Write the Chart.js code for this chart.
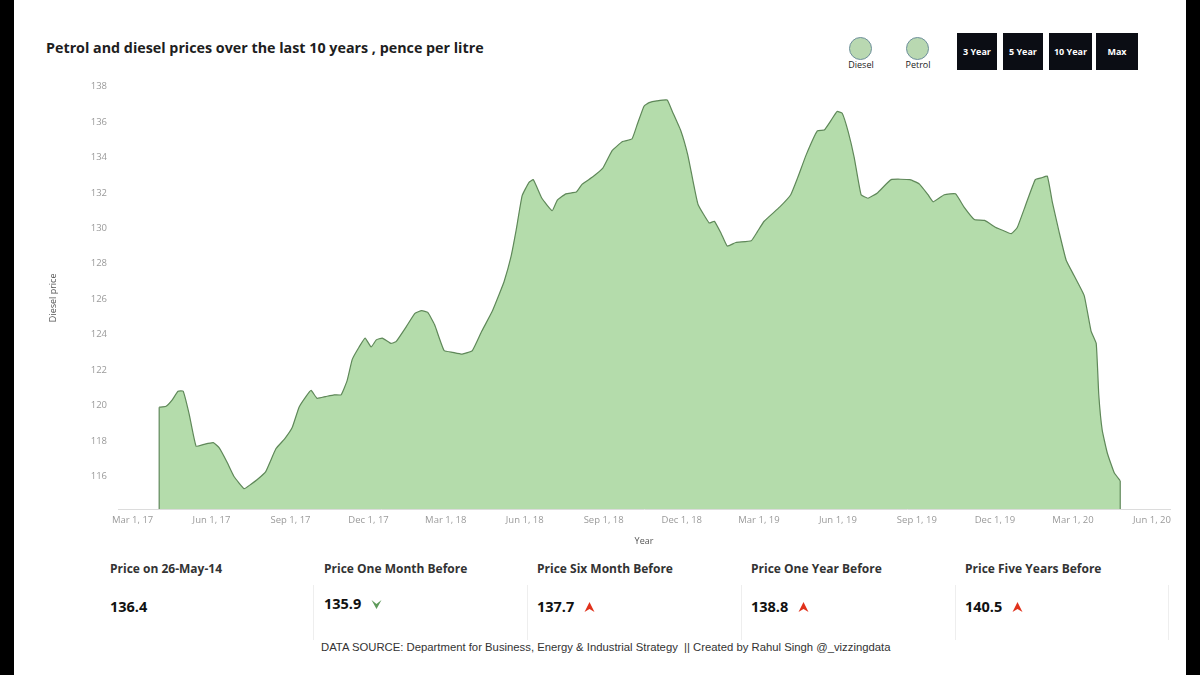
<!DOCTYPE html>
<html>
<head>
<meta charset="utf-8">
<script src="https://cdn.jsdelivr.net/npm/chart.js@4.4.1/dist/chart.umd.min.js"></script>
<style>
  html, body { margin:0; padding:0; width:1200px; height:675px; background:#000; overflow:hidden; }
  #page { position:absolute; left:14px; top:0; width:1172px; height:675px; background:#fff; }
  .abs { position:absolute; }
  #title { left:32px; top:38px; font-family:'Open Sans',sans-serif; font-weight:700; font-size:14.3px; color:#1e1e1e; white-space:nowrap; }
  .leg { width:23px; height:23px; border-radius:50%; background:#b9d8b1; border:1.6px solid #6e8f9c; box-sizing:border-box; }
  .legtxt { font-family:'Open Sans',sans-serif; font-size:9px; color:#222; width:40px; text-align:center; }
  .btn { background:#0b0d14; color:#fff; font-family:'Open Sans',sans-serif; font-weight:700; font-size:9px; display:flex; align-items:center; justify-content:center; height:37px; top:33px; }
  #chartBox { left:30px; top:70px; width:1136px; height:480px; }
  .hdr { font-family:'Open Sans',sans-serif; font-weight:700; font-size:12px; color:#333; top:560px; white-space:nowrap; }
  .val { font-family:'Open Sans',sans-serif; font-weight:700; font-size:14.5px; color:#111; top:597px; white-space:nowrap; display:flex; align-items:center; }
  .val svg { margin-left:10px; }
  .sep { width:1px; background:#eeeeee; top:585px; height:55px; }
  #foot { left:307px; top:641px; font-family:'Liberation Sans',Arial,sans-serif; font-size:11.3px; color:#333; white-space:nowrap; }
</style>
</head>
<body>
<div id="page">
  <div id="title" class="abs">Petrol and diesel prices over the last 10 years , pence per litre</div>

  <div class="abs leg" style="left:835px;top:37px;"></div>
  <div class="abs legtxt" style="left:827px;top:58px;">Diesel</div>
  <div class="abs leg" style="left:892px;top:37px;"></div>
  <div class="abs legtxt" style="left:884px;top:58px;">Petrol</div>

  <div class="abs btn" style="left:943px;width:40px;">3 Year</div>
  <div class="abs btn" style="left:989px;width:40px;">5 Year</div>
  <div class="abs btn" style="left:1035px;width:43px;">10 Year</div>
  <div class="abs btn" style="left:1082px;width:42px;">Max</div>

  <div id="chartBox" class="abs"><canvas id="c"></canvas></div>

  <div class="abs hdr" style="left:96px;">Price on 26-May-14</div>
  <div class="abs hdr" style="left:310px;">Price One Month Before</div>
  <div class="abs hdr" style="left:523px;">Price Six Month Before</div>
  <div class="abs hdr" style="left:737px;">Price One Year Before</div>
  <div class="abs hdr" style="left:951px;">Price Five Years Before</div>

  <div class="abs sep" style="left:299px;"></div>
  <div class="abs sep" style="left:513px;"></div>
  <div class="abs sep" style="left:727px;"></div>
  <div class="abs sep" style="left:941px;"></div>
  <div class="abs sep" style="left:1154px;"></div>

  <div class="abs val" style="left:96px;">136.4</div>
  <div class="abs val" style="left:310px;top:594px;">135.9<svg width="11" height="10" viewBox="0 0 10 10"><path d="M0,1 L5,10 L10,1 L5,5 Z" fill="#5e9a5a"/></svg></div>
  <div class="abs val" style="left:523px;">137.7<svg width="11" height="10" viewBox="0 0 10 10"><path d="M0,10 L5,0 L10,10 L5,7 Z" fill="#e0321c"/></svg></div>
  <div class="abs val" style="left:737px;">138.8<svg width="11" height="10" viewBox="0 0 10 10"><path d="M0,10 L5,0 L10,10 L5,7 Z" fill="#e0321c"/></svg></div>
  <div class="abs val" style="left:951px;">140.5<svg width="11" height="10" viewBox="0 0 10 10"><path d="M0,10 L5,0 L10,10 L5,7 Z" fill="#e0321c"/></svg></div>

  <div id="foot" class="abs">DATA SOURCE: Department for Business, Energy &amp; Industrial Strategy &nbsp;|| Created by Rahul Singh @_vizzingdata</div>
</div>

<script>
// ---- Data ----
const dieselDates = [
  "2017-04-01","2017-04-09","2017-04-16","2017-04-23","2017-04-29","2017-05-06","2017-05-14","2017-05-23",
  "2017-06-03","2017-06-10","2017-06-19","2017-06-27","2017-07-09","2017-07-17","2017-07-24","2017-08-03",
  "2017-08-15","2017-08-25","2017-09-03","2017-09-11","2017-09-19","2017-09-25","2017-10-02","2017-10-12",
  "2017-10-22","2017-10-30","2017-11-06","2017-11-12","2017-11-20","2017-11-27","2017-12-04","2017-12-10",
  "2017-12-17","2017-12-27","2018-01-02","2018-01-14","2018-01-24","2018-02-01","2018-02-08","2018-02-16",
  "2018-02-27","2018-03-09","2018-03-20","2018-04-01","2018-04-12","2018-04-24","2018-05-02","2018-05-08",
  "2018-05-16","2018-05-22","2018-05-29","2018-06-06","2018-06-11","2018-06-21","2018-07-03","2018-07-09",
  "2018-07-19","2018-07-31","2018-08-07","2018-08-19","2018-08-31","2018-09-11","2018-09-23","2018-10-04",
  "2018-10-10","2018-10-18","2018-10-24","2018-11-02","2018-11-14","2018-11-20","2018-11-30","2018-12-08",
  "2018-12-14","2018-12-20","2019-01-02","2019-01-08","2019-01-16","2019-01-23","2019-02-02","2019-02-20",
  "2019-02-27","2019-03-07","2019-03-25","2019-04-07","2019-04-15","2019-04-25","2019-05-08","2019-05-16",
  "2019-05-24","2019-05-31","2019-06-06","2019-06-13","2019-06-20","2019-06-28","2019-07-06","2019-07-17",
  "2019-08-02","2019-08-24","2019-09-04","2019-09-14","2019-09-20","2019-10-03","2019-10-16","2019-10-26",
  "2019-11-07","2019-11-19","2019-12-02","2019-12-12","2019-12-20","2019-12-27","2020-01-06","2020-01-17",
  "2020-01-24","2020-01-31","2020-02-06","2020-02-14","2020-02-22","2020-03-02","2020-03-14","2020-03-22",
  "2020-03-28","2020-03-31","2020-04-04","2020-04-10","2020-04-18","2020-04-25"
];
const dieselPrice = [
  119.9,119.95,120.3,120.8,120.8,119.5,117.7,117.8,
  117.9,117.6,116.8,116.0,115.3,115.55,115.8,116.25,
  117.55,118.1,118.75,119.9,120.5,120.85,120.4,120.5,
  120.6,120.6,121.4,122.6,123.3,123.8,123.3,123.7,
  123.8,123.5,123.6,124.45,125.2,125.35,125.25,124.55,
  123.1,123.0,122.9,123.1,124.2,125.3,126.25,127.0,
  128.4,129.9,131.85,132.6,132.75,131.7,131.0,131.6,
  131.95,132.05,132.5,132.9,133.4,134.4,134.9,135.05,
  135.85,136.9,137.1,137.2,137.25,136.6,135.5,134.15,
  132.7,131.35,130.3,130.4,129.7,129.0,129.2,129.3,
  129.8,130.4,131.2,131.9,132.85,134.15,135.5,135.55,
  136.1,136.6,136.5,135.45,134.0,131.9,131.7,132.0,
  132.75,132.75,132.5,131.9,131.5,131.9,131.95,131.2,
  130.5,130.45,130.05,129.85,129.7,130.05,131.35,132.75,
  132.85,132.95,131.45,129.75,128.2,127.35,126.2,124.2,
  123.5,120.6,118.6,117.3,116.2,115.75
];
const xTickDates  = ["2017-03-01","2017-06-01","2017-09-01","2017-12-01","2018-03-01","2018-06-01","2018-09-01",
                     "2018-12-01","2019-03-01","2019-06-01","2019-09-01","2019-12-01","2020-03-01","2020-06-01"];
const xTickLabels = ["Mar 1, 17","Jun 1, 17","Sep 1, 17","Dec 1, 17","Mar 1, 18","Jun 1, 18","Sep 1, 18",
                     "Dec 1, 18","Mar 1, 19","Jun 1, 19","Sep 1, 19","Dec 1, 19","Mar 1, 20","Jun 1, 20"];
const yTicks = [116,118,120,122,124,126,128,130,132,134,136,138];

// ---- helpers ----
const BASE = Date.UTC(2017, 2, 1);
function dayOf(s) { const p = s.split('-').map(Number); return (Date.UTC(p[0], p[1]-1, p[2]) - BASE) / 86400000; }
const points = dieselDates.map((d, i) => ({ x: dayOf(d), y: dieselPrice[i] }));
const tickPos = xTickDates.map(dayOf);
const tickLabelMap = {};
tickPos.forEach((p, i) => { tickLabelMap[p] = xTickLabels[i]; });

Chart.defaults.font.family = "'Open Sans', sans-serif";

// draws the outline down the two vertical ends of the filled area
const edgePlugin = {
  id: 'edges',
  afterDatasetsDraw(chart) {
    const meta = chart.getDatasetMeta(0);
    const pts = meta.data;
    if (!pts.length) return;
    const ctx = chart.ctx, bottom = chart.chartArea.bottom;
    ctx.save();
    ctx.strokeStyle = '#5f8859';
    ctx.lineWidth = 1.2;
    ctx.beginPath();
    ctx.moveTo(pts[0].x, bottom); ctx.lineTo(pts[0].x, pts[0].y);
    const l = pts[pts.length - 1];
    ctx.moveTo(l.x, bottom); ctx.lineTo(l.x, l.y);
    ctx.stroke();
    ctx.restore();
  }
};

new Chart(document.getElementById('c'), {
  type: 'line',
  data: {
    datasets: [{
      label: 'Diesel price',
      data: points,
      borderColor: '#5f8859',
      borderWidth: 1.2,
      backgroundColor: '#b4dcab',
      fill: 'start',
      pointRadius: 0,
      tension: 0.12
    }]
  },
  plugins: [edgePlugin],
  options: {
    responsive: true,
    maintainAspectRatio: false,
    animation: false,
    layout: { padding: { top: 13, right: 10, left: 0, bottom: 0 } },
    plugins: { legend: { display: false }, tooltip: { enabled: false } },
    scales: {
      x: {
        type: 'linear',
        min: -17,
        max: 1209,
        grid: { display: false, drawTicks: false },
        border: { display: true, color: '#dcdcdc' },
        afterBuildTicks: (s) => { s.ticks = tickPos.map(v => ({ value: v })); },
        afterFit: (s) => { s.height = 41; },
        ticks: {
          autoSkip: false, maxRotation: 0, padding: 6,
          color: '#9a9a9a', font: { size: 9.5 },
          callback: (v) => tickLabelMap[v] || ''
        },
        title: { display: true, text: 'Year', color: '#555', font: { size: 9 }, padding: { top: 2, bottom: 3 } }
      },
      y: {
        min: 114.15,
        max: 138,
        grid: { display: false, drawTicks: false },
        border: { display: false },
        afterBuildTicks: (s) => { s.ticks = yTicks.map(v => ({ value: v })); },
        afterFit: (s) => { s.width = 74; },
        ticks: { padding: 11, color: '#9a9a9a', font: { size: 9.5 } },
        title: { display: true, text: 'Diesel price', color: '#555', font: { size: 9 }, padding: { top: 4, bottom: 4 } }
      }
    }
  }
});
</script>
</body>
</html>
